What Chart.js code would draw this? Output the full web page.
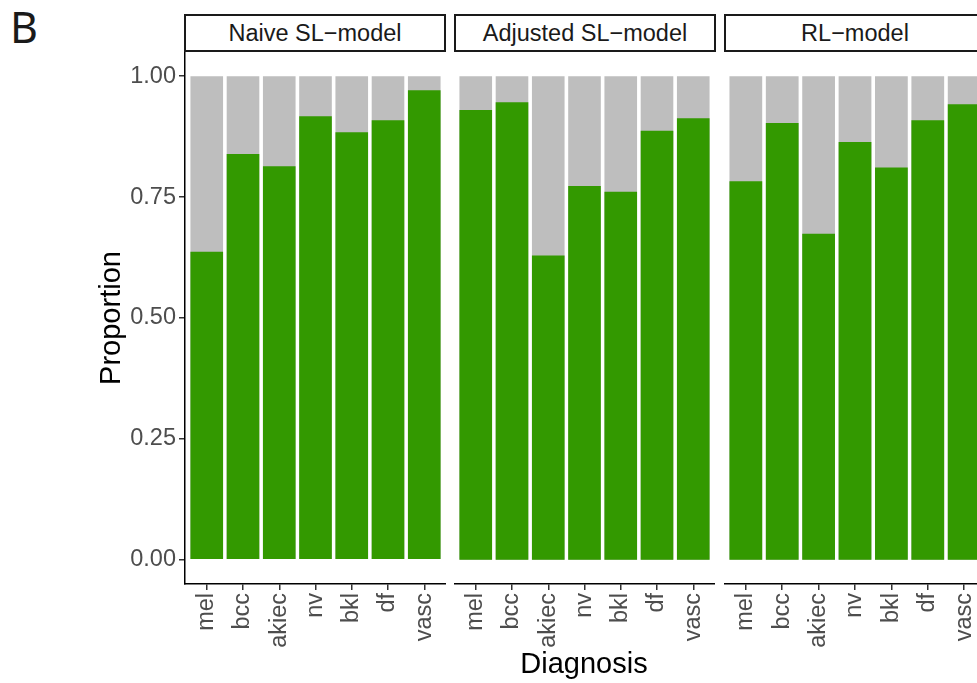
<!DOCTYPE html>
<html>
<head>
<meta charset="utf-8">
<script src="https://cdn.jsdelivr.net/npm/chart.js@4.4.1/dist/chart.umd.min.js"></script>
<style>
  html, body { margin: 0; padding: 0; background: #fff; overflow: hidden; }
  #fig { position: relative; width: 977px; height: 683px; overflow: hidden; font-family: "Liberation Sans", Arial, sans-serif; }
  canvas { position: absolute; top: 52px; }
  .strip { position: absolute; top: 14px; width: 258px; height: 34px; border: 2px solid #1a1a1a; color: #1a1a1a;
           font-size: 23.5px; line-height: 34px; text-align: center; white-space: nowrap; }
  #tag { position: absolute; left: 10px; top: -3px; font-family: "Noto Sans", sans-serif; font-size: 43px; color: #1a1a1a; }
  #xtitle { position: absolute; left: 454px; width: 260px; top: 647px; font-size: 29px; line-height: 32px; text-align: center; color: #000; }
</style>
</head>
<body>
<div id="fig">
  <div id="tag">B</div>
  <div class="strip" style="left:184px">Naive SL−model</div>
  <div class="strip" style="left:454px">Adjusted SL−model</div>
  <div class="strip" style="left:724px">RL−model</div>
  <canvas id="panelNaive" width="446" height="631" style="left:0px"></canvas>
  <canvas id="panelAdjusted" width="261" height="631" style="left:454px"></canvas>
  <canvas id="panelRL" width="262" height="631" style="left:724px"></canvas>
  <div id="xtitle">Diagnosis</div>
</div>
<script>
// proportion of correct predictions per diagnosis, one array per model facet
const CATEGORIES = ["mel", "bcc", "akiec", "nv", "bkl", "df", "vasc"];
const NAIVE_SL = [0.637, 0.839, 0.814, 0.917, 0.884, 0.909, 0.971];
const ADJUSTED_SL = [0.930, 0.946, 0.629, 0.773, 0.761, 0.887, 0.913];
const RL_MODEL = [0.783, 0.903, 0.674, 0.864, 0.811, 0.909, 0.942];
const TOTAL = [1, 1, 1, 1, 1, 1, 1]; // grey background bar, full height
const Y_TICKS = [0, 0.25, 0.5, 0.75, 1];

const GREEN = "#339900";
const GREY = "#bebebe";
const TICK_COLOR = "#4d4d4d";

Chart.defaults.font.family = '"Liberation Sans", Arial, sans-serif';

const toPoints = (arr) => arr.map((v, i) => ({ x: i, y: v }));

function makePanel(id, values, showY) {
  const ctx = document.getElementById(id).getContext("2d");
  return new Chart(ctx, {
    type: "bar",
    data: {
      datasets: [
        { label: "Proportion", data: toPoints(values), backgroundColor: GREEN, order: 0 },
        { label: "Total", data: toPoints(TOTAL), backgroundColor: GREY, order: 1 },
      ],
    },
    options: {
      responsive: false,
      animation: false,
      datasets: { bar: { grouped: false, categoryPercentage: 1, barPercentage: 0.9, borderWidth: 0 } },
      layout: { padding: 0 },
      plugins: { legend: { display: false }, tooltip: { enabled: false } },
      scales: {
        x: {
          type: "linear",
          min: -0.6,
          max: 6.6,
          offset: false,
          afterBuildTicks: (s) => { s.ticks = CATEGORIES.map((_, i) => ({ value: i })); },
          afterFit: (s) => { s.height = 99; s.paddingLeft = 0; s.paddingRight = 0; },
          ticks: {
            callback: (v) => CATEGORIES[v],
            autoSkip: false,
            minRotation: 90,
            maxRotation: 90,
            padding: 3,
            color: TICK_COLOR,
            font: { size: 23.5 },
          },
          grid: { display: true, offset: false, drawOnChartArea: false, drawTicks: true, tickLength: 6, color: "#333333", lineWidth: 1.5 },
          border: { display: true, color: "#000000", width: 1.5 },
        },
        y: {
          display: showY,
          min: -0.05,
          max: 1.05,
          afterBuildTicks: (s) => { s.ticks = Y_TICKS.map((v) => ({ value: v })); },
          afterFit: (s) => { s.width = showY ? 185 : 0; s.paddingTop = 0; s.paddingBottom = 0; },
          ticks: {
            callback: (v) => v.toFixed(2),
            padding: 3,
            color: TICK_COLOR,
            font: { size: 23.5 },
          },
          title: {
            display: true,
            text: "Proportion",
            color: "#000000",
            font: { size: 29 },
            padding: { top: 95, bottom: 0 },
          },
          grid: { display: true, drawOnChartArea: false, drawTicks: true, tickLength: 6, color: "#333333", lineWidth: 1.5 },
          border: { display: true, color: "#000000", width: 1.5 },
        },
      },
    },
  });
}

makePanel("panelNaive", NAIVE_SL, true);
makePanel("panelAdjusted", ADJUSTED_SL, false);
makePanel("panelRL", RL_MODEL, false);
</script>
</body>
</html>
